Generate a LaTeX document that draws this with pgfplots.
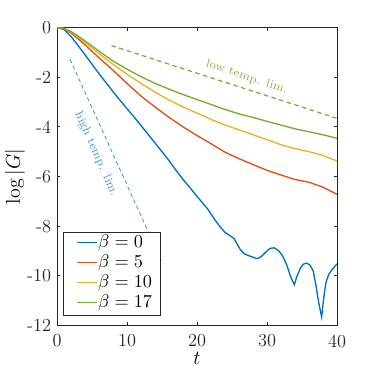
\documentclass[border=0pt]{standalone}
\usepackage{pgfplots}
\pgfplotsset{compat=1.18}
\definecolor{mblue}{rgb}{0,0.447,0.741}
\definecolor{mred}{rgb}{0.85,0.325,0.098}
\definecolor{myel}{rgb}{0.929,0.694,0.125}
\definecolor{mgreen}{rgb}{0.466,0.674,0.188}
\definecolor{axgray}{rgb}{0.15,0.15,0.15}
\newcommand{\legline}[1]{\textcolor{#1}{\rule[2.6pt]{11.7pt}{0.8pt}}\hspace{0.8pt}}
\begin{document}
\begin{tikzpicture}
\begin{axis}[
  scale only axis, width=168pt, height=178.8pt,
  xmin=0, xmax=40, ymin=-12, ymax=0,
  xtick={0,10,20,30,40},
  ytick={-12,-10,-8,-6,-4,-2,0},
  yticklabels={-12,-10,-8,-6,-4,-2,0},
  xticklabels={0,10,20,30,40},
  tick align=inside, major tick length=2pt,
  axis line style={axgray, line width=0.6pt},
  every tick/.style={axgray, line width=0.6pt},
  tick label style={font=\fontsize{11}{13}\selectfont, text=axgray},
  xticklabel style={yshift=-2pt},
  xlabel={$t$}, ylabel={$\log|G|$},
  label style={font=\fontsize{12}{14}\selectfont},
  xlabel style={at={(axis description cs:0.5,-0.11)}, anchor=center},
  ylabel style={at={(axis description cs:-0.15,0.5)}, anchor=center},
]
\addplot[mblue, line width=0.8pt] coordinates {
(0,0) (1,-0.08) (2,-0.36) (3,-0.72) (4,-1.1) (5,-1.48) (6,-1.86) (7,-2.22) (8,-2.58) (9,-2.93) (10,-3.27)
(11,-3.6) (12,-3.95) (13,-4.3) (14,-4.65) (15,-5.0) (16,-5.36) (17,-5.75) (18,-6.12) (19,-6.45) (20,-6.8)
(21.5,-7.3) (22.5,-7.72) (23.3,-8.03) (24,-8.25) (24.8,-8.4) (25.3,-8.5) (25.7,-8.7) (26.2,-8.95) (26.8,-9.12)
(27.5,-9.2) (28,-9.25) (28.6,-9.31) (29.2,-9.22) (29.8,-9.05) (30.4,-8.9) (31,-8.87) (31.6,-8.97) (32.2,-9.18)
(32.8,-9.55) (33.4,-10.05) (33.9,-10.36) (34.3,-10.0) (34.8,-9.68) (35.2,-9.53) (35.6,-9.49) (36.1,-9.55)
(36.6,-9.8) (37.0,-10.4) (37.4,-11.1) (37.8,-11.66) (38.1,-10.9) (38.4,-10.3) (38.8,-9.95) (39.3,-9.75) (40,-9.52)
};
\addplot[mred, line width=0.8pt] coordinates {
(0,0) (1,-0.05) (2,-0.22) (3,-0.45) (4,-0.7) (6,-1.22) (8,-1.72) (10,-2.25) (12,-2.76) (14,-3.2) (16,-3.62)
(18,-4.0) (20,-4.35) (22,-4.68) (24,-5.02) (26,-5.28) (28,-5.52) (30,-5.75) (32,-5.94) (34,-6.12) (36,-6.23)
(38,-6.43) (40,-6.72)
};
\addplot[myel, line width=0.8pt] coordinates {
(0,0) (1,-0.04) (2,-0.18) (3,-0.38) (4,-0.6) (6,-1.05) (8,-1.48) (10,-1.88) (12,-2.25) (14,-2.6) (16,-2.92)
(18,-3.2) (20,-3.45) (22,-3.7) (24,-3.93) (26,-4.12) (28,-4.32) (30,-4.52) (32,-4.72) (34,-4.88) (36,-5.0)
(38,-5.15) (40,-5.38)
};
\addplot[mgreen, line width=0.8pt] coordinates {
(0,0) (1,-0.04) (2,-0.16) (3,-0.34) (4,-0.54) (6,-0.95) (8,-1.35) (10,-1.68) (12,-1.98) (14,-2.25) (16,-2.48)
(18,-2.7) (20,-2.9) (22,-3.1) (24,-3.3) (26,-3.48) (28,-3.62) (30,-3.78) (32,-3.93) (34,-4.08) (36,-4.2)
(38,-4.32) (40,-4.46)
};
% dashed limits
\addplot[mblue!80!white, line width=0.45pt, dash pattern=on 2.4pt off 1.8pt] coordinates {(1.86,-1.28) (15,-9.45)};
\addplot[mgreen, line width=0.75pt, dash pattern=on 2.6pt off 2.2pt] coordinates {(7.8,-0.73) (40,-3.66)};
\node[mblue!75!white, rotate=-66, font=\fontsize{7}{8.4}\selectfont] at (axis cs:5.6,-5.1) {high temp. lim.};
\node[mgreen!90!white, rotate=-18.5, font=\fontsize{7}{8.4}\selectfont] at (axis cs:27.1,-2.0) {low temp. lim.};
\node[anchor=south west, fill=white, draw=axgray, line width=0.6pt, inner xsep=0pt, inner ysep=1pt,
  font=\fontsize{11}{12}\selectfont] at (rel axis cs:0.021,0.032) {%
  \begin{tabular}{@{\hspace{8.4pt}}l@{\hspace{5pt}}}
  \legline{mblue}$\beta=0$\\
  \legline{mred}$\beta=5$\\
  \legline{myel}$\beta=10$\\
  \legline{mgreen}$\beta=17$
  \end{tabular}};
\coordinate (sw) at (rel axis cs:0,0);
\coordinate (ne) at (rel axis cs:1,1);
\end{axis}
\pgfresetboundingbox
\path[use as bounding box] ([shift={(-34.2pt,-29.1pt)}]sw) rectangle ([shift={(22.2pt,16.5pt)}]ne);
\end{tikzpicture}
\end{document}
